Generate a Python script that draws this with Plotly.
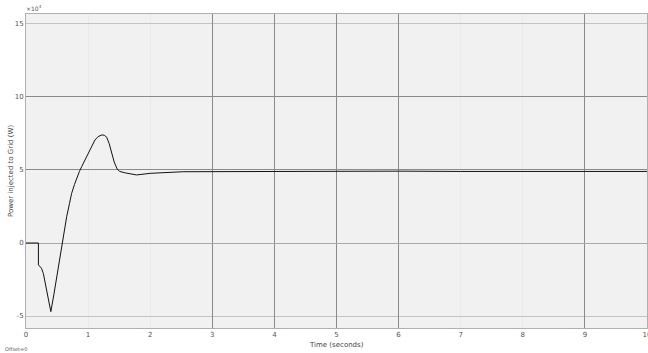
import plotly.graph_objects as go

# Time (s) and power (x10^4 W)
time_s = [0, 0.2, 0.2, 0.25, 0.28, 0.40, 0.45, 0.50, 0.55, 0.575, 0.62, 0.655, 0.70,
          0.735, 0.78, 0.815, 0.86, 0.897, 0.95, 1.0, 1.05, 1.11, 1.16, 1.22, 1.26,
          1.30, 1.34, 1.38, 1.42, 1.47, 1.51, 1.60, 1.70, 1.78, 1.90, 2.0, 2.53,
          3.3, 4.0, 5.0, 6.0, 7.0, 8.0, 9.0, 10.0]
power = [0, 0, -1.5, -1.73, -2.1, -4.7, -3.5, -2.2, -0.8, 0, 1.0, 1.8, 2.7,
         3.4, 4.0, 4.43, 4.9, 5.23, 5.7, 6.14, 6.6, 7.05, 7.28, 7.4, 7.38,
         7.24, 6.8, 6.14, 5.55, 5.05, 4.9, 4.8, 4.72, 4.66, 4.72, 4.77, 4.88,
         4.9, 4.9, 4.9, 4.92, 4.9, 4.9, 4.9, 4.9]

x_ticks = [0, 1, 2, 3, 4, 5, 6, 7, 8, 9, 10]
y_ticks = [-5, 0, 5, 10, 15]
x_dark = [3, 4, 5, 6, 9, 10]
y_dark = [5, 10]

fig = go.Figure()
fig.add_trace(go.Scatter(x=[0], y=[0], mode="markers", marker=dict(opacity=0),
                         hoverinfo="skip", showlegend=False))
fig.add_trace(go.Scatter(x=time_s, y=power, mode="lines", xaxis="x2", yaxis="y2",
                         line=dict(color="#111111", width=1), showlegend=False))

tickfont = dict(family="DejaVu Sans", size=7, color="#555555")
titlefont = dict(family="DejaVu Sans", size=7, color="#444444")
xr = [0, 10]
yr = [-5.82, 15.68]

fig.update_layout(
    width=648, height=353,
    margin=dict(l=26, r=1, t=14, b=25, autoexpand=False),
    paper_bgcolor="white", plot_bgcolor="#f0f1f0",
    xaxis=dict(range=xr, tickvals=x_ticks, ticktext=[str(v) for v in x_ticks],
               showgrid=True, gridcolor="#eaeaea", gridwidth=1, zeroline=False,
               ticks="", tickfont=tickfont, showline=True, linecolor="#b0b0b0",
               mirror=True, automargin=False, ticklabeloverflow="allow"),
    yaxis=dict(range=yr, tickvals=y_ticks, ticktext=[str(v) for v in y_ticks],
               showgrid=True, gridcolor="#c4c4c4", gridwidth=1, zeroline=True,
               zerolinecolor="#a8a8a8", zerolinewidth=1,
               ticks="", tickfont=tickfont, showline=True, linecolor="#b0b0b0",
               mirror=True, automargin=False, ticklabeloverflow="allow"),
    xaxis2=dict(range=xr, overlaying="x", tickvals=x_dark, showticklabels=False,
                showgrid=True, gridcolor="#8a8a8a", gridwidth=1, zeroline=False,
                ticks="", showline=False, automargin=False),
    yaxis2=dict(range=yr, overlaying="y", tickvals=y_dark, showticklabels=False,
                showgrid=True, gridcolor="#8a8a8a", gridwidth=1, zeroline=False,
                ticks="", showline=False, automargin=False),
    annotations=[
        dict(text="×10<sup>4</sup>", x=0, y=1, xref="paper", yref="paper",
             xanchor="left", yanchor="bottom", showarrow=False, xshift=-2,
             font=dict(family="DejaVu Sans", size=6, color="#555555")),
        dict(text="Time (seconds)", x=0.5, y=0, xref="paper", yref="paper",
             xanchor="center", yanchor="top", showarrow=False, yshift=-11,
             font=titlefont),
        dict(text="Power injected to Grid (W)", x=0, y=0.5, xref="paper", yref="paper",
             xanchor="right", yanchor="middle", showarrow=False, xshift=-9,
             textangle=-90, font=titlefont),
        dict(text="Offset=0", x=0, y=0, xref="paper", yref="paper",
             xanchor="left", yanchor="top", showarrow=False, xshift=-23, yshift=-16,
             font=dict(family="DejaVu Sans", size=5, color="#555555")),
    ],
)

fig.write_html("out.html", config={"displayModeBar": False},
               post_script="document.body.style.margin='0px';")
